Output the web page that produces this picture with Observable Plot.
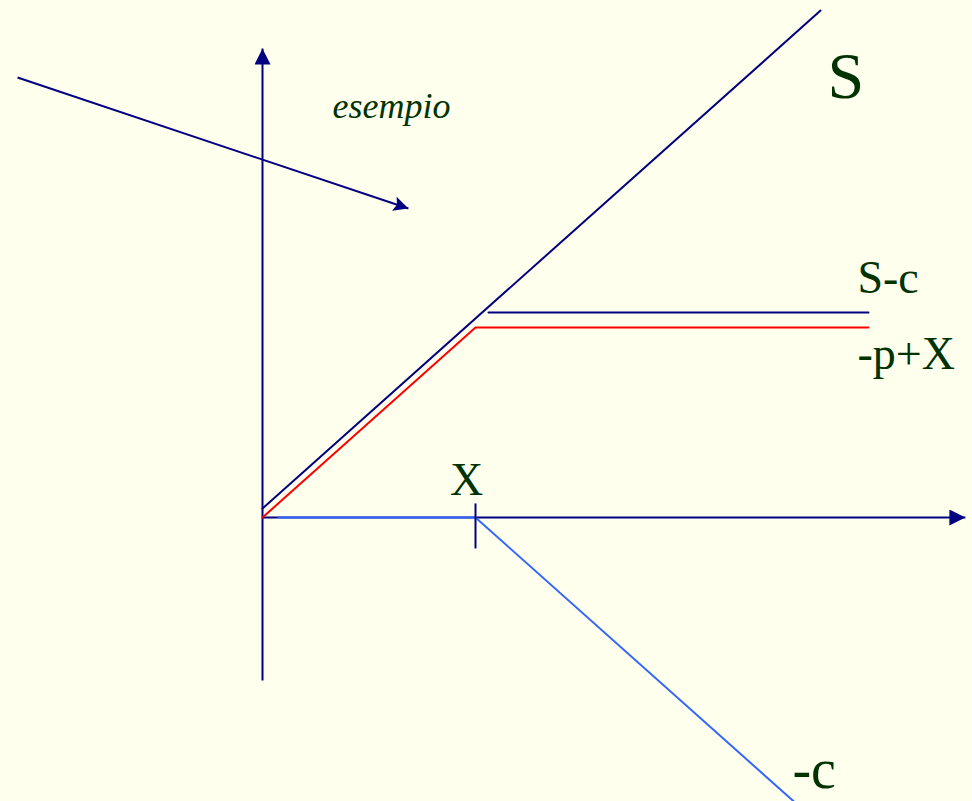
<!DOCTYPE html>
<html>
<head>
<meta charset="utf-8">
<script src="https://cdn.jsdelivr.net/npm/d3@7"></script>
<script src="https://cdn.jsdelivr.net/npm/@observablehq/plot@0.6"></script>
<style>
  html, body { margin: 0; padding: 0; background: #ffffee; }
  #chart svg { display: block; }
</style>
</head>
<body>
<div id="chart"></div>
<script>
// ---- Data (payoff diagram units: strike X = 1) ----
const strikeX = [1];
const sLine = [{x: 0, y: 0.047}, {x: 2.62, y: 2.668}];
const sMinusCLine = [{x: 1.061, y: 1.079}, {x: 2.845, y: 1.079}];
const redPayoff = [{x: 0, y: 0}, {x: 1, y: 1}, {x: 2.845, y: 1}];
const bluePayoff = [{x: 0.075, y: 0}, {x: 1, y: 0}, {x: 2.5, y: -1.5}];
const axisLines = [
  {x1: 0, y1: -0.858, x2: 0, y2: 2.468},
  {x1: 0, y1: 0, x2: 3.30, y2: 0}
];
const tickSpan = [{y1: 0.074, y2: -0.163}];
const pointer = [{x1: -1.150, y1: 2.316, x2: 0.685, y2: 1.626}];
const bigLabel = [{text: "S", x: 2.653, y: 2.2105}];
const sideLabels = [
  {text: "S-c", x: 2.793, y: 1.179},
  {text: "-p+X", x: 2.793, y: 0.784}
];
const strikeLabel = [{text: "X", x: 0.958, y: 0.1158}];
const minusCLabel = [{text: "-c", x: 2.488, y: -1.426}];
const noteLabel = [{text: "esempio", x: 0.329, y: 2.105}];

const navy = "#000080";
const green = "#003300";
const serif = "Liberation Serif";

function filledArrow(size, notch) {
  return (color, context) => {
    const m = d3.create("svg:marker")
      .attr("viewBox", `0 ${-size / 2} ${size} ${size}`)
      .attr("markerWidth", size)
      .attr("markerHeight", size)
      .attr("markerUnits", "userSpaceOnUse")
      .attr("refX", size)
      .attr("refY", 0)
      .attr("orient", "auto");
    m.append("path")
      .attr("d", `M0,${-size / 2}L${size},0L0,${size / 2}L${size * notch},0Z`)
      .attr("fill", color)
      .attr("stroke", "none");
    return m.node();
  };
}

const W = 972, H = 801;
const chart = Plot.plot({
  width: W,
  height: H,
  margin: 0,
  style: {background: "#ffffee", overflow: "visible"},
  x: {domain: [-262 / 213, (W - 262) / 213], axis: null},
  y: {domain: [(517 - H) / 190, 517 / 190], axis: null},
  marks: [
    Plot.link(axisLines, {x1: "x1", y1: "y1", x2: "x2", y2: "y2", stroke: navy, strokeWidth: 2, markerEnd: filledArrow(16, 0)}),
    Plot.line(bluePayoff, {x: "x", y: "y", stroke: "#3366ff", strokeWidth: 2, strokeLinejoin: "miter"}),
    Plot.line(redPayoff, {x: "x", y: "y", stroke: "#ff0000", strokeWidth: 2, strokeLinejoin: "miter"}),
    Plot.line(sLine, {x: "x", y: "y", stroke: navy, strokeWidth: 2}),
    Plot.line(sMinusCLine, {x: "x", y: "y", stroke: navy, strokeWidth: 2}),
    Plot.link(tickSpan, {x: () => strikeX[0], y1: "y1", y2: "y2", stroke: navy, strokeWidth: 2}),
    Plot.link(pointer, {x1: "x1", y1: "y1", x2: "x2", y2: "y2", stroke: navy, strokeWidth: 2, markerEnd: filledArrow(15, 0.2)}),
    Plot.text(bigLabel, {x: "x", y: "y", text: "text", fill: green, fontSize: 66, fontFamily: serif, textAnchor: "start", lineAnchor: "bottom"}),
    Plot.text(sideLabels, {x: "x", y: "y", text: "text", fill: green, fontSize: 46, fontFamily: serif, textAnchor: "start", lineAnchor: "bottom"}),
    Plot.text(strikeLabel, {x: "x", y: "y", text: "text", fill: green, fontSize: 46, fontFamily: serif, textAnchor: "middle", lineAnchor: "bottom"}),
    Plot.text(minusCLabel, {x: "x", y: "y", text: "text", fill: green, fontSize: 56, fontFamily: serif, textAnchor: "start", lineAnchor: "bottom"}),
    Plot.text(noteLabel, {x: "x", y: "y", text: "text", fill: green, fontSize: 36, fontStyle: "italic", fontFamily: serif, textAnchor: "start", lineAnchor: "bottom"})
  ]
});
document.getElementById("chart").append(chart);
</script>
</body>
</html>
